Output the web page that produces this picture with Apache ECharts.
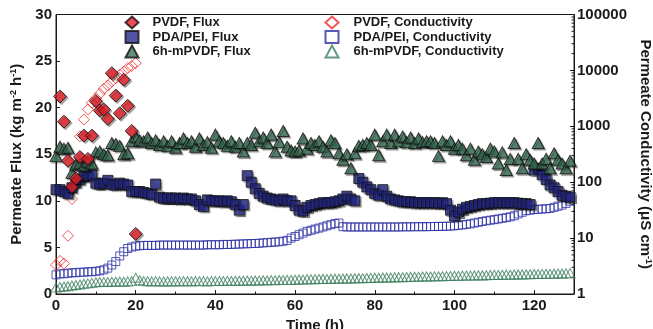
<!DOCTYPE html>
<html><head><meta charset="utf-8">
<script src="https://cdn.jsdelivr.net/npm/echarts@6/dist/echarts.min.js"></script>
<style>html,body{margin:0;padding:0;background:#fff}#c{width:653px;height:329px}</style>
</head><body><div id="c"></div>
<script>
// ---- data ----
const pvdfFluxTime = [1,2,3,4,5,6,7,8,9,10,11,12,13,14,15,16,17,18,19,20];
const pvdfFlux = [21.2,18.5,14.3,11.5,12.4,14.7,17.0,14.5,17.0,20.7,19.7,19.8,18.8,23.7,21.3,19.4,23.0,20.2,17.5,6.45];
const pvdfCondTime = [0,1,2,3,4,5,6,7,8,9,10,11,12,13,14,15,16,17,18,19,20];
const pvdfCond = [3.3,3.9,3.5,11,50,200,660,1320,2000,2630,3160,3800,4680,5370,6300,7240,8320,9550,11000,12000,13500];
const hours = [0,1,2,3,4,5,6,7,8,9,10,11,12,13,14,15,16,17,18,19,20,21,22,23,24,25,26,27,28,29,30,31,32,33,34,35,36,37,38,39,40,41,42,43,44,45,46,47,48,49,50,51,52,53,54,55,56,57,58,59,60,61,62,63,64,65,66,67,68,69,70,71,72,73,74,75,76,77,78,79,80,81,82,83,84,85,86,87,88,89,90,91,92,93,94,95,96,97,98,99,100,101,102,103,104,105,106,107,108,109,110,111,112,113,114,115,116,117,118,119,120,121,122,123,124,125,126,127,128,129];
const pdaFlux = [
 11.2,11.2,11.0,10.8,11.4,12.0,12.3,12.6,12.7,12.8,
 11.9,11.8,11.9,12.2,11.8,11.7,11.9,11.8,11.7,11.0,
 11.0,11.0,10.9,10.8,10.7,11.8,10.4,10.3,10.3,10.3,
 10.3,10.2,10.3,10.2,10.2,10.0,9.6,9.4,10.1,10.0,
 10.0,10.0,9.9,10.0,9.9,9.6,9.0,9.6,12.7,12.0,
 11.3,10.8,10.5,10.3,10.2,10.1,10.0,10.2,10.0,10.0,
 9.5,9.0,8.9,9.3,9.5,9.6,9.7,9.8,9.8,9.8,
 9.9,10.0,10.2,10.5,10.2,10.0,12.4,12.0,11.5,11.2,
 10.8,10.6,11.2,10.5,10.2,10.1,10.0,9.9,9.9,9.9,
 9.8,9.8,9.8,9.8,9.8,9.8,9.75,9.8,9.7,9.0,
 8.4,8.8,9.1,9.3,9.4,9.5,9.6,9.7,9.7,9.75,
 9.8,9.8,9.8,9.8,9.8,9.8,9.75,9.7,9.7,9.6,
 13.3,13.5,12.8,12.3,11.7,11.4,11.0,10.6,10.5,10.4];
const pdaCond = [
 2.2,2.3,2.3,2.35,2.4,2.4,2.45,2.45,2.5,2.5,
 2.55,2.6,2.7,2.9,3.3,3.8,4.8,5.7,6.5,6.9,
 7.2,7.3,7.4,7.4,7.4,7.4,7.5,7.5,7.5,7.5,
 7.5,7.5,7.5,7.5,7.5,7.5,7.5,7.5,7.6,7.6,
 7.6,7.6,7.7,7.7,7.7,7.8,7.8,7.9,7.9,8.0,
 8.0,8.1,8.2,8.3,8.4,8.5,8.6,8.8,9.1,10.0,
 10.7,11.5,12.3,13.2,13.8,14.5,15.1,15.8,16.6,17.4,
 18.2,18.6,16.0,15.8,15.8,15.8,15.8,15.8,15.8,15.8,
 15.8,15.8,15.8,15.8,15.8,15.8,15.8,15.9,15.9,15.9,
 16.0,16.0,16.0,16.0,16.1,16.1,16.2,16.2,16.3,16.4,
 16.6,16.9,17.2,17.6,18.0,18.6,19.2,19.8,20.4,20.9,
 21.4,22.0,22.6,23.2,24.0,25.1,27.0,29.0,30.9,31.6,
 32.4,32.8,33.1,33.5,33.9,35.5,37.2,38.9,41.7,45.7];
const mFlux = [
 14.8,15.8,15.6,15.7,13.0,13.9,14.0,13.8,14.2,14.0,
 15.2,15.3,15.0,14.9,16.2,16.1,15.9,15.0,15.1,16.4,
 16.9,16.5,16.4,16.8,16.2,16.5,16.0,16.4,15.9,16.4,
 15.7,16.2,16.7,16.2,16.4,15.8,16.7,16.0,16.3,15.7,
 17.1,16.4,16.2,15.9,16.4,15.8,16.2,15.3,16.2,16.0,
 17.3,16.4,16.8,16.2,17.1,15.3,16.3,17.5,15.8,15.4,
 15.3,15.4,16.7,15.6,16.2,16.0,16.4,15.8,15.3,16.5,
 16.2,15.1,14.4,15.0,13.5,15.1,15.9,16.0,16.2,16.0,
 17.1,14.9,16.4,17.1,16.2,17.1,16.4,16.9,16.3,16.8,
 16.2,16.7,16.3,16.4,16.4,16.2,14.8,16.4,16.0,16.4,
 15.6,16.0,15.6,14.9,15.6,14.4,15.3,15.0,14.7,15.6,
 15.3,14.0,15.2,13.3,14.5,16.2,14.5,13.5,15.0,14.4,
 14.0,16.2,14.0,14.5,13.5,15.1,14.4,14.0,13.5,14.3];
const mCond = [
 1.30,1.33,1.36,1.38,1.42,1.45,1.48,1.52,1.55,1.58,
 1.62,1.63,1.65,1.64,1.66,1.66,1.67,1.66,1.68,1.70,
 1.95,1.76,1.70,1.69,1.68,1.70,1.68,1.67,1.69,1.68,
 1.69,1.68,1.70,1.69,1.68,1.70,1.69,1.70,1.68,1.70,
 1.70,1.71,1.70,1.72,1.71,1.72,1.73,1.72,1.74,1.73,
 1.75,1.74,1.76,1.75,1.77,1.76,1.78,1.77,1.79,1.78,
 1.80,1.82,1.81,1.83,1.84,1.83,1.85,1.86,1.85,1.87,
 1.88,1.87,1.89,1.90,1.89,1.91,1.92,1.91,1.93,1.94,
 1.96,1.95,1.97,1.98,1.97,1.99,2.00,1.99,2.01,2.02,
 2.04,2.03,2.05,2.06,2.05,2.07,2.08,2.07,2.09,2.10,
 2.12,2.11,2.13,2.14,2.13,2.15,2.16,2.15,2.17,2.18,
 2.20,2.19,2.21,2.22,2.21,2.23,2.24,2.23,2.25,2.26,
 2.28,2.27,2.29,2.30,2.29,2.31,2.32,2.31,2.34,2.36];
const xTickLabels = [0,20,40,60,80,100,120];
const leftTickLabels = [0,5,10,15,20,25,30];
const rightTickLabels = [1,10,100,1000,10000,100000];
const rightMinorTicks = [2,3,4,5,6,7,8,9,20,30,40,50,60,70,80,90,200,300,400,500,600,700,800,900,
  2000,3000,4000,5000,6000,7000,8000,9000,20000,30000,40000,50000,60000,70000,80000,90000];

// ---- chart ----
const FONT = 'Liberation Sans';
const ink = '#1a1a1a';
const zip = (xs, ys) => xs.map((x, i) => [x, ys[i]]);
const shadow = {shadowColor:'rgba(0,0,0,0.45)', shadowBlur:1, shadowOffsetX:1.5, shadowOffsetY:1.5};

const chart = echarts.init(document.getElementById('c'), null, {renderer:'canvas'});
const legendText = {fontFamily:FONT, fontWeight:'bold', fontSize:13, color:ink, lineHeight:13};
chart.setOption({
  animation:false,
  grid:{left:56, right:79, top:14.5, bottom:35, show:true, borderColor:ink, borderWidth:1,
        containLabel:false, outerBoundsMode:'none'},
  legend:[
    {orient:'vertical', left:124.5, top:15.5, padding:0, itemGap:0.5, itemWidth:13, itemHeight:12,
     textStyle:Object.assign({padding:[0,0,0,9]}, legendText),
     data:['PVDF, Flux','PDA/PEI, Flux','6h-mPVDF, Flux']},
    {orient:'vertical', left:324.5, top:15.5, padding:0, itemGap:0.5, itemWidth:13, itemHeight:12,
     textStyle:Object.assign({padding:[0,0,0,10]}, legendText),
     data:['PVDF, Conductivity','PDA/PEI, Conductivity','6h-mPVDF, Conductivity']}
  ],
  xAxis:{type:'value', min:0, max:130, interval:20,
    name:'Time (h)', nameLocation:'middle', nameGap:20,
    nameTextStyle:{fontFamily:FONT, fontWeight:'bold', fontSize:15, color:ink},
    axisLine:{lineStyle:{color:ink, width:1}},
    axisTick:{inside:true, length:4, lineStyle:{color:ink}},
    minorTick:{show:true, splitNumber:2, length:2.5, lineStyle:{color:ink}},
    splitLine:{show:false},
    axisLabel:{showMaxLabel:false, margin:4, fontFamily:FONT, fontWeight:'bold', fontSize:15, color:ink,
      formatter:v => xTickLabels.includes(v) ? String(v) : ''}},
  yAxis:[
    {type:'value', min:0, max:30, interval:5,
     name:'{a|Permeate Flux (kg m}{s|-2}{a| h}{s|-1}{a|)}', nameLocation:'middle', nameGap:31,
     nameTextStyle:{rich:{
        a:{fontFamily:FONT, fontWeight:'bold', fontSize:15, color:ink},
        s:{fontFamily:FONT, fontWeight:'bold', fontSize:9, color:ink, verticalAlign:'top', padding:[0,0,6,0]}}},
     axisLine:{lineStyle:{color:ink}},
     axisTick:{inside:true, length:4, lineStyle:{color:ink}},
     splitLine:{show:false},
     axisLabel:{margin:4, fontFamily:FONT, fontWeight:'bold', fontSize:15, color:ink,
       formatter:v => leftTickLabels.includes(v) ? String(v) : ''}},
    {type:'log', logBase:10, min:1, max:100000, splitNumber:5, position:'right',
     name:'{a|Permeate Conductivity (μS cm}{s|-1}{a|)}', nameLocation:'middle', nameGap:61, nameRotate:-90,
     nameTextStyle:{rich:{
        a:{fontFamily:FONT, fontWeight:'bold', fontSize:15, color:ink},
        s:{fontFamily:FONT, fontWeight:'bold', fontSize:9, color:ink, verticalAlign:'top', padding:[0,0,6,0]}}},
     axisLine:{show:true, lineStyle:{color:ink}},
     axisTick:{inside:true, length:4, lineStyle:{color:ink}},
     splitLine:{show:false},
     axisLabel:{margin:3, fontFamily:FONT, fontWeight:'bold', fontSize:15, color:ink,
       formatter:v => { const r = Math.round(v); return rightTickLabels.includes(r) ? String(r) : ''; }}}
  ],
  series:[
    {name:'logMinorTicks', type:'custom', yAxisIndex:1, silent:true, clip:false,
     data:rightMinorTicks.map(v => [130, v]),
     renderItem:(params, api) => {
       const p = api.coord([api.value(0), api.value(1)]);
       return {type:'line', shape:{x1:p[0], y1:p[1], x2:p[0]-2.5, y2:p[1]},
               style:{stroke:ink, lineWidth:1}};
     }},
    {name:'6h-mPVDF, Conductivity', type:'scatter', yAxisIndex:1, symbol:'triangle', symbolSize:[10,9],
     itemStyle:{color:'rgba(0,0,0,0)', borderColor:'#3f8060', borderWidth:1}, data:zip(hours, mCond)},
    {name:'PDA/PEI, Conductivity', type:'scatter', yAxisIndex:1, symbol:'rect', symbolSize:8,
     itemStyle:{color:'rgba(0,0,0,0)', borderColor:'#2c31a3', borderWidth:1}, data:zip(hours, pdaCond)},
    {name:'PVDF, Conductivity', type:'scatter', yAxisIndex:1, symbol:'diamond', symbolSize:11,
     itemStyle:{color:'rgba(0,0,0,0)', borderColor:'#f02a2a', borderWidth:1}, data:zip(pvdfCondTime, pvdfCond)},
    {name:'PDA/PEI, Flux', type:'scatter', yAxisIndex:0, symbol:'rect', symbolSize:10,
     itemStyle:Object.assign({color:'#262a8c', borderColor:'#111', borderWidth:1}, shadow), data:zip(hours, pdaFlux)},
    {name:'6h-mPVDF, Flux', type:'scatter', yAxisIndex:0, symbol:'triangle', symbolSize:[12,11],
     itemStyle:Object.assign({color:'#3d765a', borderColor:'#111', borderWidth:1}, shadow), data:zip(hours, mFlux)},
    {name:'PVDF, Flux', type:'scatter', yAxisIndex:0, symbol:'diamond', symbolSize:13,
     itemStyle:Object.assign({color:'#e8222a', borderColor:'#111', borderWidth:1}, shadow), data:zip(pvdfFluxTime, pvdfFlux)}
  ]
});
</script></body></html>
